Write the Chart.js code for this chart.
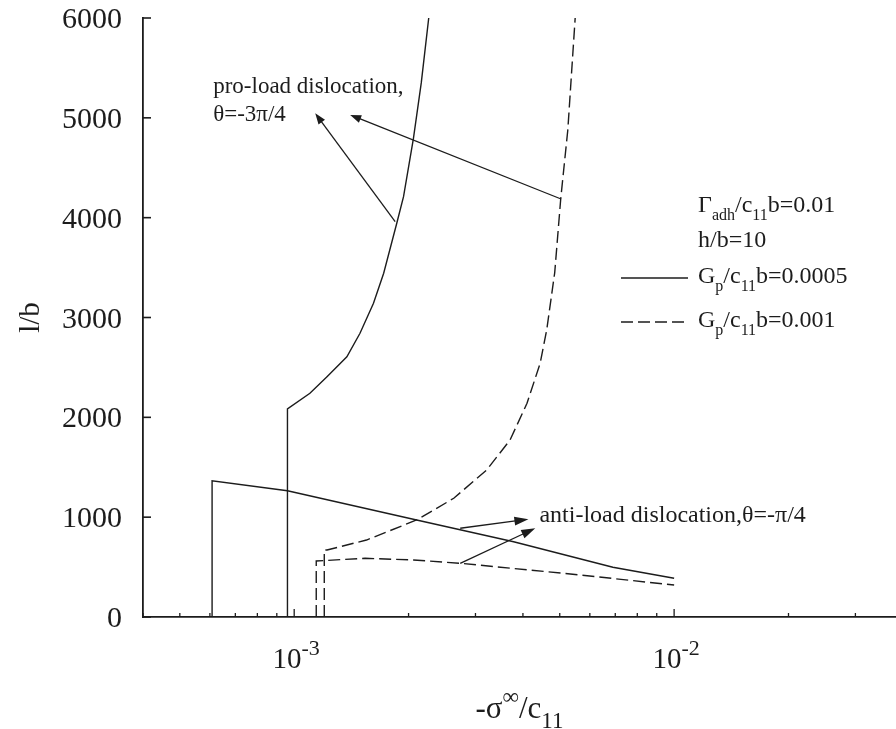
<!DOCTYPE html>
<html>
<head>
<meta charset="utf-8">
<script src="https://cdn.jsdelivr.net/npm/chart.js@4.4.1/dist/chart.umd.min.js"></script>
<style>
  html, body { margin: 0; padding: 0; background: #fff; }
  canvas { display: block; }
</style>
</head>
<body>
<canvas id="chart" width="896" height="729"></canvas>
<script>
// l/b against -sigma/c11

// pro-load dislocation, Gp/c11b = 0.0005 (solid)
const proSolidX = [9.6e-4, 9.6e-4, 1.10e-3, 1.22e-3, 1.376e-3, 1.49e-3, 1.617e-3, 1.72e-3, 1.862e-3, 1.94e-3, 2.06e-3, 2.16e-3, 2.26e-3];
const proSolidY = [0, 2084, 2241, 2407, 2607, 2842, 3142, 3443, 3944, 4210, 4795, 5350, 6000];

// anti-load dislocation, Gp/c11b = 0.0005 (solid)
const antiSolidX = [6.08e-4, 6.08e-4, 9.6e-4, 2.1e-3, 3.78e-3, 6.9e-3, 1.0e-2];
const antiSolidY = [0, 1365, 1265, 972, 754, 498, 388];

// pro-load dislocation, Gp/c11b = 0.001 (dashed)
const proDashX = [1.2e-3, 1.2e-3, 1.22e-3, 1.55e-3, 2.1e-3, 2.63e-3, 3.21e-3, 3.70e-3, 4.10e-3, 4.44e-3, 4.62e-3, 4.85e-3, 5.03e-3, 5.25e-3, 5.49e-3];
const proDashY = [0, 670, 671, 771, 972, 1189, 1472, 1773, 2141, 2541, 2875, 3450, 4190, 4878, 6000];

// anti-load dislocation, Gp/c11b = 0.001 (dashed)
const antiDashX = [1.143e-3, 1.143e-3, 1.537e-3, 2.06e-3, 2.735e-3, 5.66e-3, 1.0e-2];
const antiDashY = [0, 561, 588, 571, 538, 421, 320];

// axis ticks
const yTicks = [0, 1000, 2000, 3000, 4000, 5000, 6000];
const xMajorTicks = [1e-3, 1e-2];
const xMinorTicks = [4e-4, 5e-4, 6e-4, 7e-4, 8e-4, 9e-4, 2e-3, 3e-3, 4e-3, 5e-3, 6e-3, 7e-3, 8e-3, 9e-3, 2e-2, 3e-2];
const xTickLabels = [['10', '-3'], ['10', '-2']];

// annotation arrows: [fromX, fromY, toX, toY]
const proArrows = [[1.844e-3, 3960, 1.136e-3, 5046], [5.04e-3, 4187, 1.404e-3, 5029]];
const antiArrows = [[2.735e-3, 889, 4.135e-3, 979], [2.735e-3, 538, 4.31e-3, 889]];

const ink = '#1c1c1c';
const serif = '"Liberation Serif", "Times New Roman", serif';

function toPoints(xs, ys) {
    return xs.map((x, i) => ({ x: x, y: ys[i] }));
}

// draw text with sub (-1) / superscript (1) parts
function drawRich(ctx, parts, x, y, size, small, align) {
    let w = 0;
    parts.forEach(([t, k]) => {
        ctx.font = (k ? small : size) + 'px ' + serif;
        w += ctx.measureText(t).width;
    });
    let cx = align === 'center' ? x - w / 2 : x;
    parts.forEach(([t, k]) => {
        ctx.font = (k ? small : size) + 'px ' + serif;
        const dy = k === 1 ? -size * 0.45 : k === -1 ? size * 0.33 : 0;
        ctx.fillText(t, cx, y + dy);
        cx += ctx.measureText(t).width;
    });
}

function drawArrow(ctx, x0, y0, x1, y1, len, half) {
    const a = Math.atan2(y1 - y0, x1 - x0);
    const c = Math.cos(a), s = Math.sin(a);
    ctx.beginPath();
    ctx.moveTo(x0, y0);
    ctx.lineTo(x1 - c * len * 0.8, y1 - s * len * 0.8);
    ctx.stroke();
    ctx.beginPath();
    ctx.moveTo(x1, y1);
    ctx.lineTo(x1 - c * len + s * half, y1 - s * len - c * half);
    ctx.lineTo(x1 - c * len - s * half, y1 - s * len + c * half);
    ctx.closePath();
    ctx.fill();
}

const figurePlugin = {
    id: 'figure',
    afterDraw(chart) {
        const ctx = chart.ctx;
        const xs = chart.scales.x, ys = chart.scales.y;
        const area = chart.chartArea;
        ctx.save();
        ctx.strokeStyle = ink;
        ctx.fillStyle = ink;
        ctx.lineWidth = 1.6;

        // inward tick marks
        yTicks.forEach(v => {
            const py = ys.getPixelForValue(v);
            ctx.beginPath();
            ctx.moveTo(area.left, py);
            ctx.lineTo(area.left + 8, py);
            ctx.stroke();
        });
        ctx.lineWidth = 1.3;
        xMinorTicks.forEach(v => {
            const px = xs.getPixelForValue(v);
            ctx.beginPath();
            ctx.moveTo(px, area.bottom);
            ctx.lineTo(px, area.bottom - 4);
            ctx.stroke();
        });
        xMajorTicks.forEach(v => {
            const px = xs.getPixelForValue(v);
            ctx.beginPath();
            ctx.moveTo(px, area.bottom);
            ctx.lineTo(px, area.bottom - 8);
            ctx.stroke();
        });

        // tick labels
        ctx.textBaseline = 'alphabetic';
        ctx.textAlign = 'right';
        ctx.font = '30px ' + serif;
        yTicks.forEach(v => {
            const py = ys.getPixelForValue(v);
            ctx.fillText(String(v), area.left - 21, py + 10);
        });
        ctx.textAlign = 'left';
        xMajorTicks.forEach((v, i) => {
            const px = xs.getPixelForValue(v);
            drawRich(ctx, [[xTickLabels[i][0], 0], [xTickLabels[i][1], 1]], px + 2, area.bottom + 51, 29, 22, 'center');
        });

        // axis titles
        drawRich(ctx, [['-σ', 0], ['∞', 1], ['/c', 0], ['11', -1]], (area.left + area.right) / 2, area.bottom + 101, 31, 23, 'center');
        ctx.save();
        ctx.translate(39, (area.top + area.bottom) / 2);
        ctx.rotate(-Math.PI / 2);
        ctx.textAlign = 'center';
        ctx.font = '29px ' + serif;
        ctx.fillText('l/b', 0, 0);
        ctx.restore();

        // annotations
        ctx.textAlign = 'left';
        ctx.font = '23px ' + serif;
        ctx.fillText('pro-load dislocation,', xs.getPixelForValue(6.12e-4), ys.getPixelForValue(5249));
        ctx.fillText('θ=-3π/4', xs.getPixelForValue(6.12e-4), ys.getPixelForValue(4971));
        ctx.font = '24px ' + serif;
        ctx.fillText('anti-load dislocation,θ=-π/4', xs.getPixelForValue(4.42e-3), ys.getPixelForValue(955));

        ctx.lineWidth = 1.3;
        proArrows.forEach(([x0, y0, x1, y1]) => {
            drawArrow(ctx, xs.getPixelForValue(x0), ys.getPixelForValue(y0),
                xs.getPixelForValue(x1), ys.getPixelForValue(y1), 11, 4);
        });
        antiArrows.forEach(([x0, y0, x1, y1]) => {
            drawArrow(ctx, xs.getPixelForValue(x0), ys.getPixelForValue(y0),
                xs.getPixelForValue(x1), ys.getPixelForValue(y1), 14, 4.5);
        });

        // legend block
        const lx = 698;
        drawRich(ctx, [['Γ', 0], ['adh', -1], ['/c', 0], ['11', -1], ['b=0.01', 0]], lx, 212, 24, 16, 'left');
        drawRich(ctx, [['h/b=10', 0]], lx, 247, 24, 16, 'left');
        const samples = [
            { ds: chart.data.datasets[0], y: 278, parts: [['G', 0], ['p', -1], ['/c', 0], ['11', -1], ['b=0.0005', 0]], ty: 283 },
            { ds: chart.data.datasets[2], y: 322, parts: [['G', 0], ['p', -1], ['/c', 0], ['11', -1], ['b=0.001', 0]], ty: 327 }
        ];
        samples.forEach(s => {
            ctx.save();
            ctx.strokeStyle = s.ds.borderColor;
            ctx.lineWidth = s.ds.borderWidth;
            ctx.setLineDash(s.ds.borderDash || []);
            ctx.beginPath();
            ctx.moveTo(621, s.y);
            ctx.lineTo(688, s.y);
            ctx.stroke();
            ctx.restore();
            drawRich(ctx, s.parts, lx, s.ty, 24, 16, 'left');
        });

        ctx.restore();
    }
};

const lineStyle = { showLine: true, pointRadius: 0, borderColor: ink, borderWidth: 1.4, tension: 0, fill: false };
const dashStyle = Object.assign({}, lineStyle, { borderDash: [12, 5] });

const ctx = document.getElementById('chart').getContext('2d');
const chart = new Chart(ctx, {
    type: 'scatter',
    data: {
        datasets: [
            Object.assign({ label: 'pro-load, Gp/c11b=0.0005', data: toPoints(proSolidX, proSolidY) }, lineStyle),
            Object.assign({ label: 'anti-load, Gp/c11b=0.0005', data: toPoints(antiSolidX, antiSolidY) }, lineStyle),
            Object.assign({ label: 'pro-load, Gp/c11b=0.001', data: toPoints(proDashX, proDashY) }, dashStyle),
            Object.assign({ label: 'anti-load, Gp/c11b=0.001', data: toPoints(antiDashX, antiDashY) }, dashStyle)
        ]
    },
    options: {
        responsive: false,
        animation: false,
        layout: { padding: { left: 143, top: 18, right: 0, bottom: 112 } },
        plugins: {
            legend: { display: false },
            tooltip: { enabled: false }
        },
        scales: {
            x: {
                type: 'logarithmic',
                min: 4e-4,
                max: 0.03837,
                ticks: { display: false },
                grid: { display: false, drawTicks: false },
                border: { display: true, color: ink, width: 1.8 }
            },
            y: {
                type: 'linear',
                min: 0,
                max: 6000,
                ticks: { display: false },
                grid: { display: false, drawTicks: false },
                border: { display: true, color: ink, width: 1.8 }
            }
        }
    },
    plugins: [figurePlugin]
});
</script>
</body>
</html>
